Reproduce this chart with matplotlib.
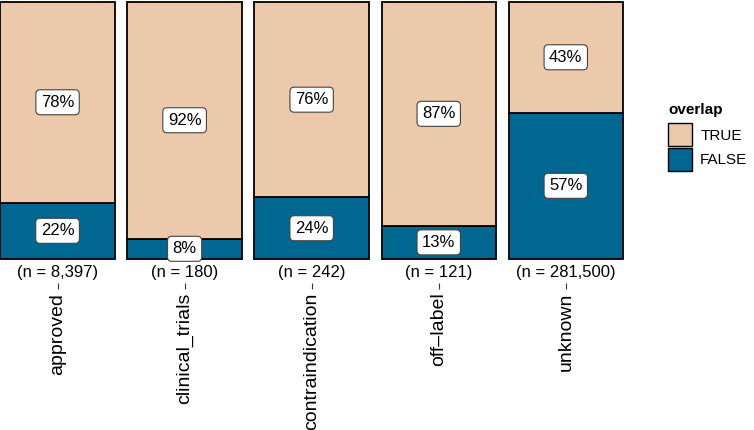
import numpy as np
import matplotlib
matplotlib.use('Agg')
import matplotlib.pyplot as plt
from matplotlib.patches import Patch

plt.rcParams['font.family'] = ['Liberation Sans', 'DejaVu Sans']

categories = ['approved', 'clinical_trials', 'contraindication', 'off–label', 'unknown']
n_counts = ['8,397', '180', '242', '121', '281,500']
pct_false = np.array([22, 8, 24, 13, 57])
pct_true = np.array([78, 92, 76, 87, 43])

col_true = '#EBC9AA'
col_false = '#006791'

fig = plt.figure(figsize=(7.54, 4.30), dpi=100)
# panel in pixels: x 0..642, y 1..283
ax = fig.add_axes([0, (430 - 283) / 430, 642 / 754, 282 / 430])

x = np.arange(len(categories))
frac_false = pct_false / 100
frac_true = pct_true / 100
ax.bar(x, frac_false, width=0.9, color=col_false, edgecolor='black', linewidth=1.3)
ax.bar(x, frac_true, bottom=frac_false, width=0.9, color=col_true,
       edgecolor='black', linewidth=1.3)

box = dict(boxstyle='round,pad=0.3,rounding_size=0.25', facecolor='white',
           edgecolor='#444444', linewidth=0.8)
for i in range(len(categories)):
    ax.text(x[i], frac_false[i] / 2, f'{pct_false[i]}%', ha='center', va='center',
            fontsize=12, bbox=box)
    ax.text(x[i], frac_false[i] + frac_true[i] / 2, f'{pct_true[i]}%', ha='center',
            va='center', fontsize=12, bbox=box)
    ax.text(x[i], -0.052, f'(n = {n_counts[i]})', ha='center', va='center', fontsize=12)

ax.set_xlim(-0.453, 4.6)
ax.set_ylim(-(283 - 259) / 258, 1 + 1 / 258)
ax.set_xticks(x)
ax.set_xticklabels(categories, rotation=90, fontsize=14)
ax.tick_params(axis='x', length=4, width=0.8, color='#333333', pad=3)
ax.set_yticks([])
for s in ax.spines.values():
    s.set_visible(False)

handles = [Patch(facecolor=col_true, edgecolor='black', linewidth=1.0, label='TRUE'),
           Patch(facecolor=col_false, edgecolor='black', linewidth=1.0, label='FALSE')]
leg = fig.legend(handles=handles, title='overlap', loc='upper left',
                 bbox_to_anchor=(662 / 754, 1 - 97 / 430), frameon=False,
                 fontsize=11, title_fontproperties={'weight': 'bold', 'size': 11},
                 handlelength=1.55, handleheight=1.9, labelspacing=0.15,
                 handletextpad=0.55, borderaxespad=0)
leg._legend_box.align = 'left'
leg._legend_box.sep = 4.5

fig.savefig('out.png', dpi=100)
